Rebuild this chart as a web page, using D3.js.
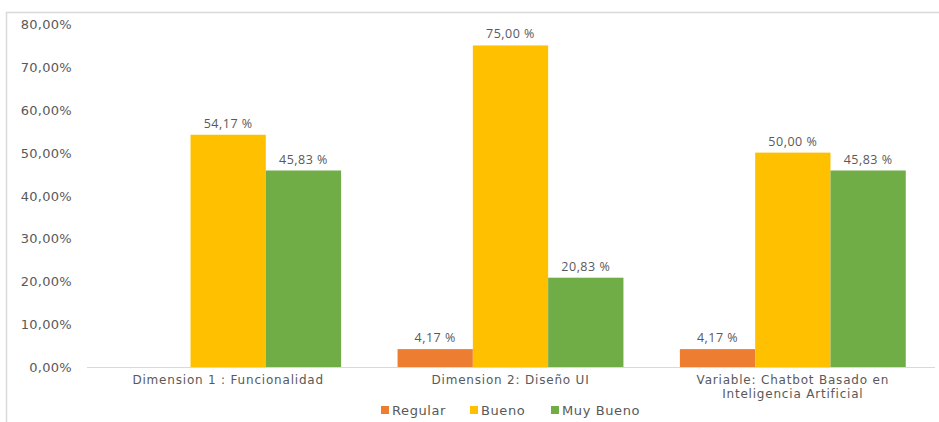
<!DOCTYPE html>
<html>
<head>
<meta charset="utf-8">
<script src="https://cdn.jsdelivr.net/npm/d3@7"></script>
<style>
  body { margin: 0; background: #fff; }
  svg text { font-family: "DejaVu Sans", sans-serif; }
</style>
</head>
<body>
<div id="chart"></div>
<script>
const width = 939;
const height = 422;

// data
const categories = [
  ["Dimension 1 : Funcionalidad"],
  ["Dimension 2: Diseño UI"],
  ["Variable: Chatbot Basado en", "Inteligencia Artificial"]
];
const seriesNames = ["Regular", "Bueno", "Muy Bueno"];
const regular = [0, 4.17, 4.17];
const bueno = [54.17, 75.00, 50.00];
const muyBueno = [45.83, 20.83, 45.83];
const yTicks = [0, 10, 20, 30, 40, 50, 60, 70, 80];

const colors = ["#ED7D31", "#FFC000", "#70AD47"];
const seriesValues = [regular, bueno, muyBueno];

const margin = { top: 24, right: 5, bottom: 55, left: 87 };

const svg = d3.select("#chart").append("svg")
  .attr("width", width)
  .attr("height", height);

// chart border (left + top)
svg.append("path")
  .attr("d", `M6.5,${height} V12.5 H${width}`)
  .attr("fill", "none")
  .attr("stroke", "#d9d9d9")
  .attr("stroke-width", 1.5);

const x0 = d3.scaleBand()
  .domain(d3.range(categories.length))
  .range([margin.left, width - margin.right])
  .paddingInner(0.2)
  .paddingOuter(0.1);

const x1 = d3.scaleBand()
  .domain(seriesNames)
  .range([0, x0.bandwidth()]);

const y = d3.scaleLinear()
  .domain([0, 80])
  .range([height - margin.bottom, margin.top]);

// y tick labels
const yAxis = d3.axisLeft(y)
  .tickValues(yTicks)
  .tickSize(0)
  .tickPadding(0)
  .tickFormat(d => d.toFixed(2).replace(".", ",") + "%");

const yg = svg.append("g")
  .attr("transform", `translate(${margin.left - 15},0)`)
  .call(yAxis);
yg.select(".domain").remove();
yg.selectAll("text")
  .attr("fill", "#595959")
  .attr("font-size", "13px")
  .attr("dy", "0.35em")
  .style("letter-spacing", "0.3px");

// bars
const groups = svg.append("g").selectAll("g")
  .data(categories)
  .join("g")
  .attr("transform", (d, i) => `translate(${x0(i)},0)`);

groups.selectAll("rect")
  .data((d, i) => seriesNames.map((s, k) => ({ s, k, v: seriesValues[k][i] })))
  .join("rect")
  .attr("x", d => x1(d.s))
  .attr("y", d => y(d.v))
  .attr("width", x1.bandwidth())
  .attr("height", d => y(0) - y(d.v))
  .attr("fill", d => colors[d.k]);

groups.selectAll("text.val")
  .data((d, i) => seriesNames.map((s, k) => ({ s, k, v: seriesValues[k][i] })).filter(d => d.v > 0))
  .join("text")
  .attr("class", "val")
  .attr("x", d => x1(d.s) + x1.bandwidth() / 2)
  .attr("y", d => y(d.v) - 7)
  .attr("text-anchor", "middle")
  .attr("fill", "#595959")
  .attr("font-size", "12.5px")
  .style("font-family", "'Open Sans', sans-serif")
  .style("letter-spacing", "0.5px")
  .text(d => d.v.toFixed(2).replace(".", ",") + " %");

// baseline
svg.append("line")
  .attr("x1", margin.left)
  .attr("x2", width - 4)
  .attr("y1", y(0) + 0.5)
  .attr("y2", y(0) + 0.5)
  .attr("stroke", "#d9d9d9")
  .attr("stroke-width", 1);

// category labels, one text per line
const catLines = [];
categories.forEach((lines, i) => {
  lines.forEach((line, j) => catLines.push({ i, j, line }));
});
svg.append("g").selectAll("text")
  .data(catLines)
  .join("text")
  .attr("x", d => x0(d.i) + x0.bandwidth() / 2)
  .attr("y", d => y(0) + 17 + d.j * 14)
  .attr("text-anchor", "middle")
  .attr("fill", "#595959")
  .attr("font-size", "12px")
  .style("letter-spacing", "0.8px")
  .text(d => d.line);

// legend
const legendItems = [
  { name: seriesNames[0], x: 381 },
  { name: seriesNames[1], x: 470 },
  { name: seriesNames[2], x: 551 }
];
const legend = svg.append("g").attr("transform", "translate(0,410)");
legendItems.forEach((item, i) => {
  legend.append("rect")
    .attr("x", item.x)
    .attr("y", -4)
    .attr("width", 8)
    .attr("height", 8)
    .attr("fill", colors[i]);
  legend.append("text")
    .attr("x", item.x + 11)
    .attr("y", 0)
    .attr("dy", "0.35em")
    .attr("fill", "#595959")
    .attr("font-size", "13px")
    .style("letter-spacing", "0.6px")
    .text(item.name);
});
</script>
</body>
</html>
